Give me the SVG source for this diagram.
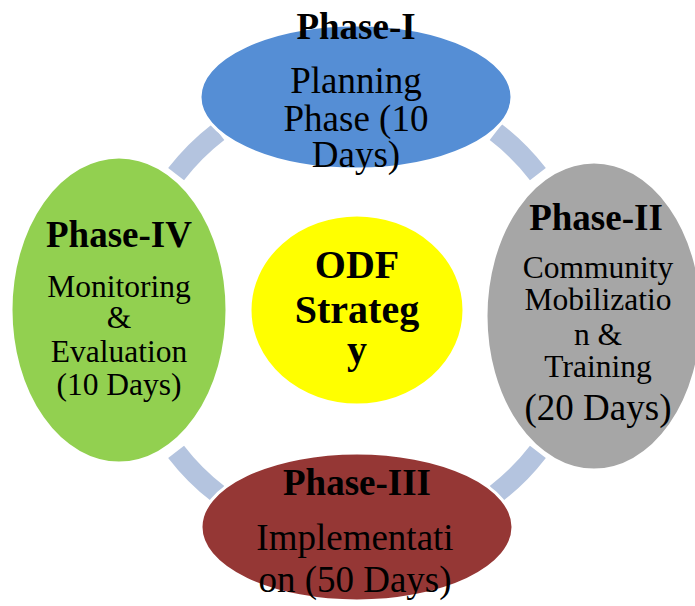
<svg xmlns="http://www.w3.org/2000/svg" width="695" height="606" viewBox="0 0 695 606">
<style>
.conn{fill:none;stroke:#B4C4DF;stroke-width:20}
.node{stroke:#FFFFFF;stroke-width:3}
text{font-family:"Liberation Serif","Times New Roman",serif;text-anchor:middle;fill:#000}
.b{font-weight:bold;font-size:37px}
.r28{font-size:37px}
.r24{font-size:31.5px}
.y{font-weight:bold;font-size:40px}
</style>
<rect width="695" height="606" fill="#FFFFFF"/>
<g id="connectors">
<path class="conn" d="M495.8,132.1 A228,228 0 0 1 537.9,174.2"/>
<path class="conn" d="M537.9,451.8 A228,228 0 0 1 495.8,493.9"/>
<path class="conn" d="M218.2,493.9 A228,228 0 0 1 176.1,451.8"/>
<path class="conn" d="M176.1,174.2 A228,228 0 0 1 218.2,132.1"/>
</g>
<g id="phase1">
<ellipse class="node" cx="356" cy="97" rx="156" ry="72" fill="#558ED5"/>
<text class="b" x="356" y="39">Phase-I</text>
<text class="r28" x="356" y="93">Planning</text>
<text class="r28" x="356" y="131">Phase (10</text>
<text class="r28" x="356" y="167">Days)</text>
</g>
<g id="phase2">
<ellipse class="node" cx="594" cy="316" rx="108" ry="154" fill="#A6A6A6"/>
<text class="b" x="596" y="230">Phase-II</text>
<text class="r24" x="598" y="278">Community</text>
<text class="r24" x="598" y="310">Mobilizatio</text>
<text class="r24" x="598" y="345">n &amp;</text>
<text class="r24" x="598" y="377">Training</text>
<text class="r28" x="598" y="420">(20 Days)</text>
</g>
<g id="phase3">
<ellipse class="node" cx="357" cy="527" rx="156" ry="74" fill="#953735"/>
<text class="b" x="357" y="495">Phase-III</text>
<text class="r28" x="355" y="550">Implementati</text>
<text class="r28" x="355" y="592">on (50 Days)</text>
</g>
<g id="phase4">
<ellipse class="node" cx="119" cy="310" rx="108" ry="153" fill="#92D050"/>
<text class="b" x="119" y="247">Phase-IV</text>
<text class="r24" x="119" y="297">Monitoring</text>
<text class="r24" x="119" y="328">&amp;</text>
<text class="r24" x="119" y="362">Evaluation</text>
<text class="r24" x="119" y="395">(10 Days)</text>
</g>
<g id="center">
<ellipse class="node" cx="357" cy="310" rx="107" ry="95" fill="#FFFF00"/>
<text class="y" x="357" y="278">ODF</text>
<text class="y" x="357" y="323">Strateg</text>
<text class="y" x="357" y="363">y</text>
</g>
</svg>
